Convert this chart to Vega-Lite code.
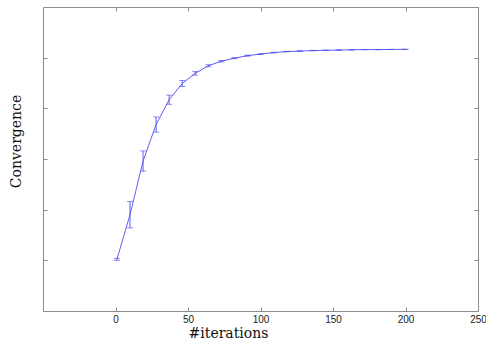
{
  "$schema": "https://vega.github.io/schema/vega-lite/v6.json",
  "width": 435,
  "height": 304,
  "autosize": "none",
  "padding": {"left": 43, "top": 7, "right": 8, "bottom": 34},
  "background": "white",
  "config": {"view": {"stroke": "#8c8c8c", "strokeWidth": 1}},
  "data": {"values": [
    {"it": 1, "conv": 1.02, "err": 0.02},
    {"it": 10, "conv": 1.90, "err": 0.26},
    {"it": 19, "conv": 2.96, "err": 0.20},
    {"it": 28, "conv": 3.68, "err": 0.15},
    {"it": 37, "conv": 4.17, "err": 0.09},
    {"it": 46, "conv": 4.49, "err": 0.06},
    {"it": 55, "conv": 4.69, "err": 0.035},
    {"it": 64, "conv": 4.84, "err": 0.02},
    {"it": 73, "conv": 4.93, "err": 0.015},
    {"it": 82, "conv": 4.99, "err": 0.01},
    {"it": 91, "conv": 5.04, "err": 0.01},
    {"it": 100, "conv": 5.07, "err": 0.008},
    {"it": 109, "conv": 5.10, "err": 0.006},
    {"it": 118, "conv": 5.12, "err": 0.005},
    {"it": 127, "conv": 5.13, "err": 0.005},
    {"it": 136, "conv": 5.14, "err": 0.004},
    {"it": 145, "conv": 5.145, "err": 0.004},
    {"it": 154, "conv": 5.15, "err": 0.003},
    {"it": 163, "conv": 5.155, "err": 0.003},
    {"it": 172, "conv": 5.16, "err": 0.003},
    {"it": 181, "conv": 5.16, "err": 0.002},
    {"it": 190, "conv": 5.162, "err": 0.002},
    {"it": 200, "conv": 5.165, "err": 0.002}
  ]},
  "resolve": {"axis": {"x": "independent", "y": "independent"}},
  "layer": [
    {
      "mark": {"type": "line", "color": "#4c4cf0", "strokeWidth": 0.9},
      "encoding": {
        "x": {"field": "it", "type": "quantitative",
              "scale": {"domain": [-50, 250], "nice": false, "zero": false},
              "axis": {"orient": "bottom", "values": [0, 50, 100, 150, 200, 250], "grid": false,
                       "domain": false, "tickSize": -4, "tickColor": "#8c8c8c",
                       "labelPadding": 7, "labelFontSize": 10, "labelFont": "Liberation Sans",
                       "labelColor": "#222", "labelFlush": false,
                       "title": "#iterations", "titleFont": "DejaVu Serif", "titleFontSize": 14,
                       "titleFontWeight": "normal", "titleColor": "#111",
                       "titleX": 185, "titleY": 26, "titleBaseline": "alphabetic", "titleAlign": "center"}},
        "y": {"field": "conv", "type": "quantitative",
              "scale": {"domain": [0, 6], "nice": false, "zero": false},
              "axis": {"orient": "left", "values": [1, 2, 3, 4, 5], "grid": false, "domain": false,
                       "labels": false, "tickSize": -4, "tickColor": "#8c8c8c",
                       "title": "Convergence", "titleFont": "DejaVu Serif", "titleFontSize": 14,
                       "titleFontWeight": "normal", "titleColor": "#111",
                       "titleAngle": -90, "titleX": -27, "titleY": 134, "titleAlign": "center",
                       "titleBaseline": "middle"}}
      }
    },
    {
      "mark": {"type": "errorbar", "ticks": {"size": 6, "color": "#4c4cf0"}, "color": "#4c4cf0", "thickness": 0.9},
      "encoding": {
        "x": {"field": "it", "type": "quantitative",
              "axis": {"orient": "top", "values": [0, 50, 100, 150, 200, 250], "grid": false,
                       "domain": false, "labels": false, "tickSize": -4, "tickColor": "#8c8c8c", "title": null}},
        "y": {"field": "conv", "type": "quantitative",
              "axis": {"orient": "right", "values": [1, 2, 3, 4, 5], "grid": false, "domain": false,
                       "labels": false, "tickSize": -4, "tickColor": "#8c8c8c", "title": null}},
        "yError": {"field": "err"}
      }
    }
  ]
}
